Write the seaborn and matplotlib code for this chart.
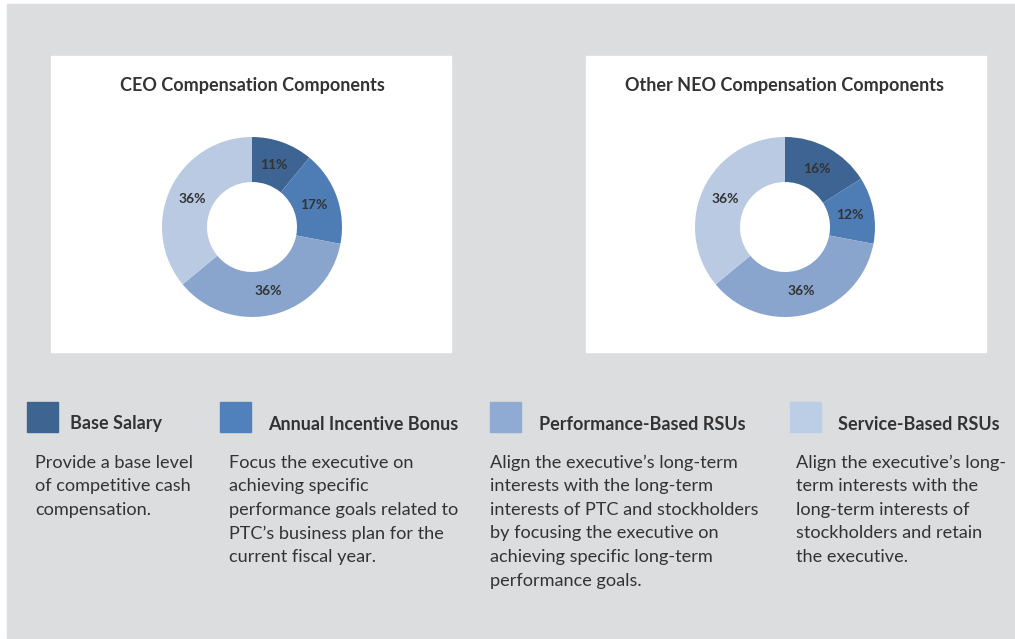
import matplotlib
matplotlib.use("Agg")
import matplotlib.pyplot as plt
import seaborn as sns
from matplotlib.patches import Rectangle

components = ["Base Salary", "Annual Incentive Bonus",
              "Performance-Based RSUs", "Service-Based RSUs"]
ceo_pct = [11, 17, 36, 36]
neo_pct = [16, 12, 36, 36]
chart_titles = ["CEO Compensation Components", "Other NEO Compensation Components"]
descriptions = [
    "Provide a base level\nof competitive cash\ncompensation.",
    "Focus the executive on\nachieving specific\nperformance goals related to\nPTC\u2019s business plan for the\ncurrent fiscal year.",
    "Align the executive\u2019s long-term\ninterests with the long-term\ninterests of PTC and stockholders\nby focusing the executive on\nachieving specific long-term\nperformance goals.",
    "Align the executive\u2019s long-\nterm interests with the\nlong-term interests of\nstockholders and retain\nthe executive.",
]

sns.set_theme(style="white")
plt.rcParams["font.family"] = ["Lato", "DejaVu Sans"]

colors = sns.color_palette(["#3e6493", "#4e7db6", "#89a5ce", "#b9cae2"])
legend_colors = sns.color_palette(["#3e6492", "#5181bb", "#8fabd3", "#bccde6"])
text_col = "#333333"
bg = "#dcdddf"

W, H = 1015, 639
fig = plt.figure(figsize=(W / 100, H / 100), dpi=100)
fig.patch.set_facecolor("white")


def px_axes(x0, y0, x1, y1):
    return fig.add_axes([x0 / W, 1 - y1 / H, (x1 - x0) / W, (y1 - y0) / H])


# background layer in pixel coordinates
base = px_axes(0, 0, W, H)
base.set_xlim(0, W)
base.set_ylim(H, 0)
base.axis("off")
base.add_patch(Rectangle((7, 4), W - 7, 634, color=bg, zorder=0))
for x0 in (51, 586):
    base.add_patch(Rectangle((x0, 56), 400, 296, color="white", zorder=1))

# donut charts
for title, vals, cx in zip(chart_titles, [ceo_pct, neo_pct], [252, 785]):
    base.text(cx, 86, title, ha="center", va="center", fontsize=13,
              fontweight="bold", color=text_col, zorder=3)
    ax = px_axes(cx - 90, 227 - 90, cx + 90, 227 + 90)
    ax.pie(vals, colors=colors, startangle=90, counterclock=False,
           autopct="%.0f%%", pctdistance=0.73,
           wedgeprops=dict(width=0.5, linewidth=0),
           textprops=dict(fontsize=10, fontweight="bold", color=text_col))
    ax.set_xlim(-1, 1)
    ax.set_ylim(-1, 1)
    ax.axis("off")

# legend / descriptions
sq_x = [27, 220, 490, 790]
head_x = [70, 268, 539, 838]
desc_x = [35, 229, 490, 796]
for i, name in enumerate(components):
    base.add_patch(Rectangle((sq_x[i], 402), 31, 30, color=legend_colors[i], zorder=2))
    base.text(head_x[i], 424, name, ha="left", va="center", fontsize=13,
              fontweight="bold", color=text_col, zorder=3)
    base.text(desc_x[i], 454.5, descriptions[i], ha="left", va="top", fontsize=13.1,
              color=text_col, linespacing=1.58, zorder=3)

fig.savefig("out.png", dpi=100, facecolor=fig.get_facecolor())
